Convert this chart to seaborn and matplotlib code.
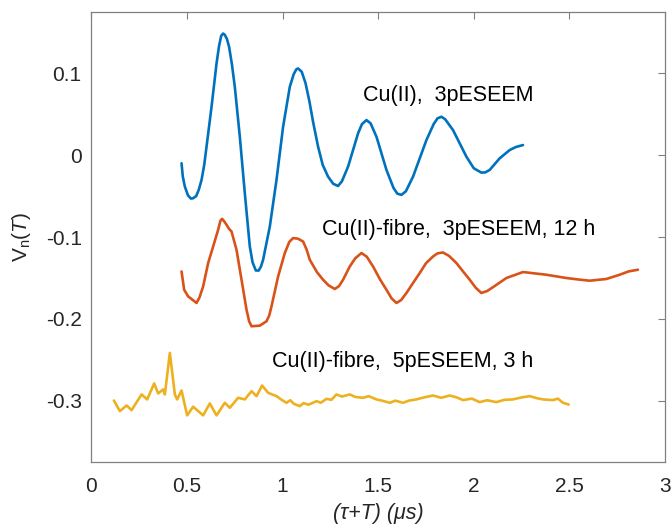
import numpy as np
import pandas as pd
import matplotlib
matplotlib.use("Agg")
import matplotlib.pyplot as plt
import seaborn as sns

# Cu(II), 3pESEEM
t_cu = [0.4715, 0.478, 0.4888, 0.505, 0.520, 0.5322, 0.548, 0.562, 0.5761, 0.590,
        0.6022, 0.6283, 0.6545, 0.668, 0.679, 0.689, 0.698, 0.709, 0.7203, 0.735,
        0.7501, 0.7763, 0.8024, 0.8285, 0.843, 0.8599, 0.875, 0.887, 0.8981, 0.9331,
        0.9681, 1.0026, 1.0376, 1.058, 1.072, 1.081, 1.100, 1.120, 1.140, 1.160,
        1.1856, 1.210, 1.2378, 1.265, 1.2901, 1.310, 1.3424, 1.3947, 1.415, 1.4386,
        1.460, 1.4909, 1.5431, 1.580, 1.600, 1.6216, 1.645, 1.6822, 1.7522, 1.790,
        1.810, 1.8306, 1.850, 1.8913, 1.9613, 2.000, 2.0397, 2.060, 2.0831, 2.1354,
        2.1877, 2.220, 2.2572]
v_cu = [-0.0099, -0.0260, -0.0384, -0.0490, -0.0530, -0.0526, -0.0500, -0.0420, -0.0302, -0.0120,
        0.0104, 0.0591, 0.1121, 0.1340, 0.1460, 0.1487, 0.1470, 0.1420, 0.1323, 0.1110,
        0.0835, 0.0226, -0.0465, -0.1116, -0.1310, -0.1409, -0.1410, -0.1360, -0.1278, -0.0872,
        -0.0302, 0.0348, 0.0835, 0.0990, 0.1050, 0.1060, 0.1020, 0.0880, 0.0660, 0.0400,
        0.0104, -0.0120, -0.0262, -0.0350, -0.0376, -0.0320, -0.0140, 0.0267, 0.0380, 0.0429,
        0.0390, 0.0226, -0.0180, -0.0400, -0.0470, -0.0485, -0.0440, -0.0262, 0.0185, 0.0380,
        0.0450, 0.0470, 0.0440, 0.0307, -0.0018, -0.0160, -0.0213, -0.0210, -0.0180, -0.0038,
        0.0063, 0.0100, 0.0124]

# Cu(II)-fibre, 3pESEEM, 12 h
t_f3 = [0.4715, 0.4851, 0.5060, 0.525, 0.5499, 0.565, 0.5844, 0.6106, 0.6367, 0.6628,
        0.675, 0.6837, 0.695, 0.7067, 0.720, 0.7329, 0.7590, 0.7852, 0.8113, 0.825,
        0.8374, 0.8808, 0.9158, 0.930, 0.9420, 0.9765, 1.0115, 1.035, 1.0549, 1.080,
        1.1072, 1.125, 1.1422, 1.180, 1.2117, 1.240, 1.2729, 1.295, 1.3163, 1.3513,
        1.380, 1.4125, 1.440, 1.4731, 1.510, 1.5431, 1.570, 1.5954, 1.620, 1.6477,
        1.680, 1.7172, 1.750, 1.7867, 1.810, 1.8390, 1.870, 1.9090, 1.940, 1.9786,
        2.010, 2.0397, 2.070, 2.1004, 2.1704, 2.2572, 2.320, 2.3795, 2.4841, 2.550,
        2.6059, 2.6932, 2.7627, 2.810, 2.8584]
v_f3 = [-0.1421, -0.1644, -0.1726, -0.1760, -0.1806, -0.1740, -0.1604, -0.1318, -0.1116, -0.0912,
        -0.0800, -0.0778, -0.0810, -0.0851, -0.0900, -0.0933, -0.1156, -0.1522, -0.1888, -0.2030,
        -0.2091, -0.2083, -0.2030, -0.1960, -0.1848, -0.1482, -0.1196, -0.1060, -0.1013, -0.1020,
        -0.1055, -0.1150, -0.1278, -0.1430, -0.1522, -0.1590, -0.1635, -0.1600, -0.1522, -0.1360,
        -0.1260, -0.1196, -0.1240, -0.1360, -0.1520, -0.1644, -0.1750, -0.1806, -0.1770, -0.1684,
        -0.1570, -0.1440, -0.1320, -0.1238, -0.1200, -0.1189, -0.1230, -0.1318, -0.1410, -0.1522,
        -0.1620, -0.1684, -0.1660, -0.1613, -0.1501, -0.1428, -0.1445, -0.1461, -0.1501, -0.1520,
        -0.1534, -0.1513, -0.1461, -0.1420, -0.1400]

# Cu(II)-fibre, 5pESEEM, 3 h
t_f5 = [0.1176, 0.1490, 0.1840, 0.2101, 0.2624, 0.2917, 0.3283, 0.3492, 0.3753, 0.3842,
        0.4103, 0.4365, 0.4485, 0.4715, 0.5008, 0.5321, 0.5844, 0.6194, 0.6545, 0.6979,
        0.7240, 0.7674, 0.8024, 0.8374, 0.8636, 0.8928, 0.9242, 0.9681, 0.995, 1.0204,
        1.040, 1.060, 1.0899, 1.110, 1.135, 1.1772, 1.200, 1.2295, 1.255, 1.2818,
        1.310, 1.3515, 1.380, 1.4210, 1.450, 1.4909, 1.520, 1.5604, 1.590, 1.6299,
        1.660, 1.6993, 1.740, 1.7867, 1.830, 1.8740, 1.910, 1.9434, 1.990, 2.0304,
        2.070, 2.1177, 2.160, 2.2046, 2.250, 2.2922, 2.330, 2.3621, 2.4144, 2.440,
        2.4663, 2.4961]
v_f5 = [-0.2998, -0.3128, -0.3059, -0.3116, -0.2924, -0.2985, -0.2790, -0.2912, -0.2863, -0.2924,
        -0.2416, -0.2924, -0.2985, -0.2876, -0.3180, -0.3074, -0.3180, -0.3034, -0.3180, -0.3026,
        -0.3087, -0.2965, -0.2985, -0.2884, -0.2945, -0.2815, -0.2904, -0.2945, -0.2990, -0.3026,
        -0.2995, -0.3040, -0.3067, -0.3030, -0.3050, -0.3006, -0.3025, -0.2977, -0.2990, -0.2924,
        -0.2950, -0.2924, -0.2955, -0.2965, -0.2945, -0.2985, -0.3000, -0.3026, -0.3000, -0.3026,
        -0.3000, -0.2985, -0.2960, -0.2937, -0.2965, -0.2937, -0.2960, -0.2993, -0.2975, -0.3018,
        -0.2995, -0.3018, -0.2990, -0.2985, -0.2960, -0.2945, -0.2970, -0.2985, -0.2993, -0.2975,
        -0.3026, -0.3047]

series = ["Cu(II),  3pESEEM", "Cu(II)-fibre,  3pESEEM, 12 h", "Cu(II)-fibre,  5pESEEM, 3 h"]
colors = ["#0072BD", "#D95319", "#EDB120"]
label_pos = [(1.42, 0.0735), (1.205, -0.0905), (0.944, -0.2518)]

xticks = [0, 0.5, 1, 1.5, 2, 2.5, 3]
yticks = [-0.3, -0.2, -0.1, 0, 0.1]
ytick_labels = ["-0.3", "-0.2", "-0.1", "0", "0.1"]

frames = []
for name, t, v in zip(series, [t_cu, t_f3, t_f5], [v_cu, v_f3, v_f5]):
    frames.append(pd.DataFrame({"t": t, "v": v, "sample": name}))
df = pd.concat(frames, ignore_index=True)

sns.set_style("white")
plt.rcParams["font.family"] = ["Liberation Sans", "DejaVu Sans"]
plt.rcParams["mathtext.fontset"] = "custom"
plt.rcParams["mathtext.rm"] = "Liberation Sans"
plt.rcParams["mathtext.it"] = "Liberation Sans:italic"

fig = plt.figure(figsize=(6.72, 5.27), dpi=100)
ax = fig.add_axes([0.136, 0.1233, 0.8536, 0.8539])

sns.lineplot(data=df, x="t", y="v", hue="sample", palette=colors, hue_order=series,
             sort=False, estimator=None, linewidth=1.9, legend=False, ax=ax)

for name, c, (lx, ly) in zip(series, colors, label_pos):
    ax.text(lx, ly, name, fontsize=15.5, color="black", ha="left", va="center")

ax.set_xlim(0, 3)
ax.set_ylim(-0.375, 0.175)
ax.set_xticks(xticks)
ax.set_xticklabels([f"{x:g}" for x in xticks])
ax.set_yticks(yticks)
ax.set_yticklabels(ytick_labels)
ax.tick_params(direction="in", length=5, width=0.8, colors="#808080",
               labelcolor="#262626", labelsize=15, top=True, right=True)
ax.tick_params(axis="x", pad=11)
ax.tick_params(axis="y", pad=7)
for s in ax.spines.values():
    s.set_color("#808080")
    s.set_linewidth(0.9)

ax.set_xlabel("(τ+T) (μs)", fontsize=15.5, fontstyle="italic", color="#262626", labelpad=5)
ax.set_ylabel(r"V$_\mathrm{n}$($\mathit{T}$)", fontsize=15, color="#262626", labelpad=9)

fig.savefig("out.png", dpi=100)
